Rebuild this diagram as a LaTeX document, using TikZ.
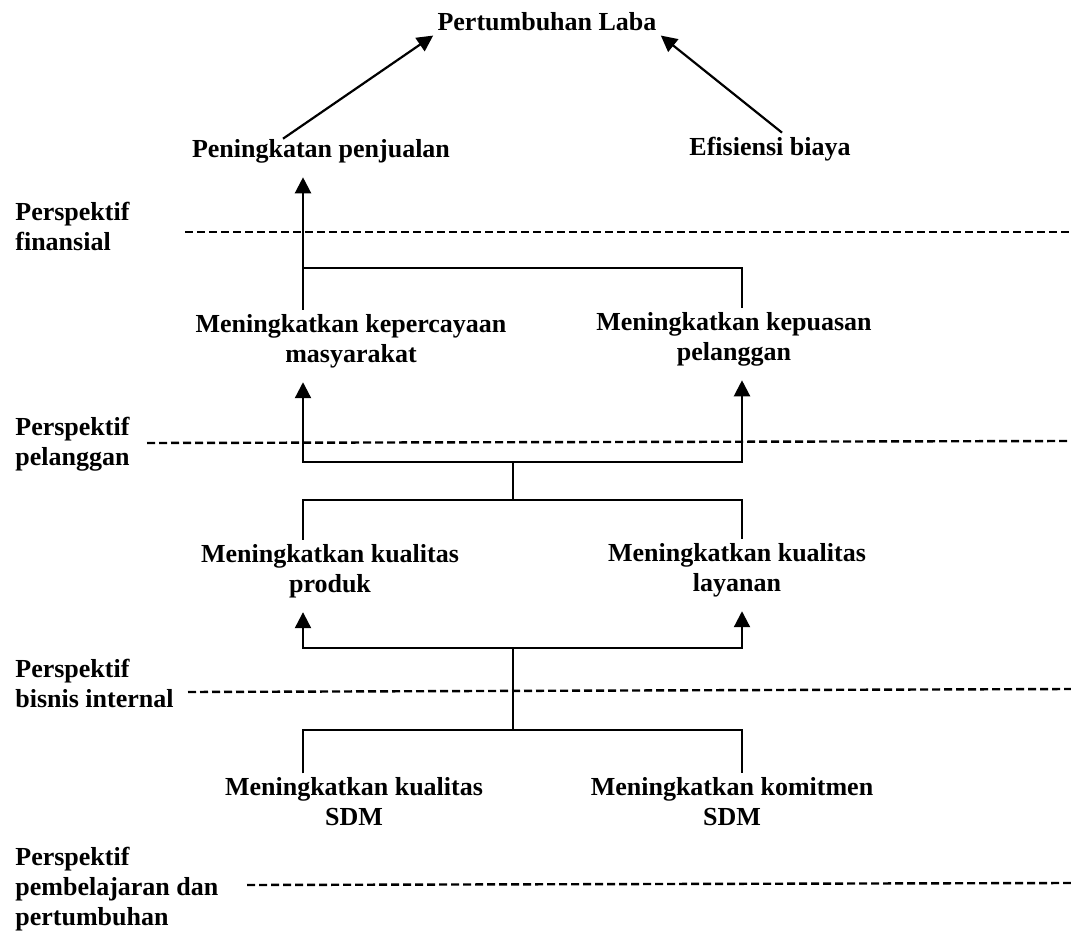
\documentclass[tikz,border=0pt]{standalone}
\usepackage{fontspec}
\setmainfont{Liberation Serif}
\usetikzlibrary{arrows.meta,positioning,calc}
\tikzset{
  tn/.style={align=center,inner sep=2pt,
    font=\fontsize{13}{15}\selectfont\bfseries},
  pl/.style={align=left,anchor=west,inner sep=0pt,
    font=\fontsize{13}{15}\selectfont\bfseries},
  lnk/.style={line width=1.1pt},
  arr/.style={-{Triangle[length=8pt,width=8pt]},line width=1.1pt},
  arrup/.style={arr,shorten >=5pt},
  sep/.style={line width=1.2pt,dash pattern=on 4pt off 2pt},
}

\begin{document}
\begin{tikzpicture}[x=0.5pt,y=-0.5pt]
    \useasboundingbox (0,0) rectangle (1071,936);

    % perspektif labels and dividers
    \node[pl] (lfin) at (15,226) {Perspektif\\finansial};
    \node[pl] (lpel) at (15,444) {Perspektif\\pelanggan};
    \node[pl] (lbis) at (15,683) {Perspektif\\bisnis internal};
    \node[pl] (lbel) at (15,889) {Perspektif\\pembelajaran dan\\pertumbuhan};
    \draw[sep] (185,232) -- (1071,232);
    \draw[sep] (147,443) -- (1071,441);
    \draw[sep] (188,692) -- (1071,689);
    \draw[sep] (247,885) -- (1071,883);

    % goals
    \node[tn] (laba) at (547,22) {Pertumbuhan Laba};
    \node[tn] (penjualan) at (321,151) {Peningkatan penjualan};
    \node[tn] (efisiensi) at (770,149) {Efisiensi biaya};
    \node[tn] (kepercayaan) at (351,341) {Meningkatkan kepercayaan\\masyarakat};
    \node[tn] (kepuasan) at (734,339) {Meningkatkan kepuasan\\pelanggan};
    \node[tn] (produk) at (330,571) {Meningkatkan kualitas\\produk};
    \node[tn] (layanan) at (737,570) {Meningkatkan kualitas\\layanan};
    \node[tn] (sdmkual) at (354,802) {Meningkatkan kualitas\\SDM};
    \node[tn] (sdmkom) at (732,802) {Meningkatkan komitmen\\SDM};

    % columns and joins
    \coordinate (cl) at (303,0);
    \coordinate (cr) at (742,0);
    \coordinate (ja) at (303,268);
    \coordinate (jb) at (513,462);
    \coordinate (jc) at (513,500);
    \coordinate (jd) at (513,648);
    \coordinate (je) at (513,730);

    \draw[arr] ($(penjualan.north)+(-38,4)$) -- (laba.south west);
    \draw[arr] ($(efisiensi.north)+(12,0)$) -- (laba.south east);

    \draw[arrup] (kepercayaan.north -| cl) -- (penjualan.south -| cl);
    \draw[lnk] (kepuasan.north -| cr) |- (ja);

    \draw[arrup] (jb) -| (kepercayaan.south -| cl);
    \draw[arrup] (jb) -| (kepuasan.south -| cr);
    \draw[lnk] (jb) -- (jc);
    \draw[lnk] (produk.north -| cl) |- (jc) -| (layanan.north -| cr);

    \draw[arrup] (jd) -| (produk.south -| cl);
    \draw[arrup] (jd) -| (layanan.south -| cr);
    \draw[lnk] (jd) -- (je);
    \draw[lnk] (sdmkual.north -| cl) |- (je) -| (sdmkom.north -| cr);
\end{tikzpicture}
\end{document}
